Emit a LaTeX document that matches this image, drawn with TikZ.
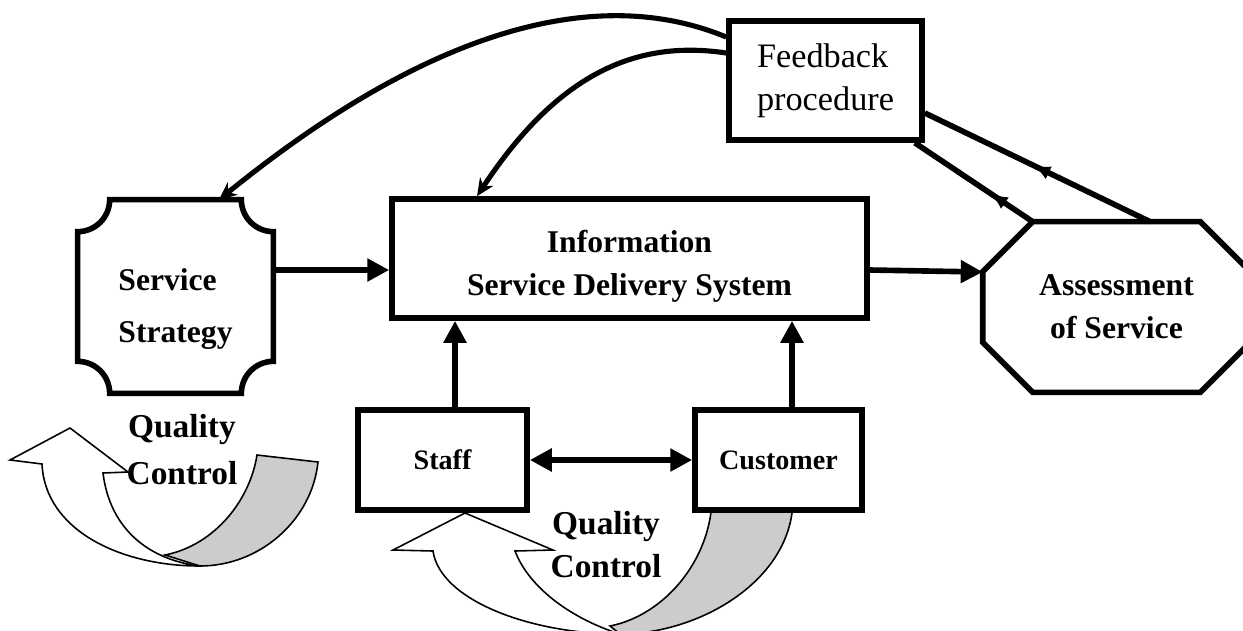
\documentclass[tikz,border=0pt]{standalone}
\usepackage{fontspec}
\setmainfont{Liberation Serif}
\usetikzlibrary{arrows.meta,decorations.markings}

\begin{document}
\begin{tikzpicture}[x=0.02cm,y=-0.02cm,
  box/.style={draw,line width=3.2pt,fill=white},
  bigarrow/.style={line width=3.2pt,-{Triangle[length=12.5pt,width=12.5pt]}},
  bothways/.style={line width=3.2pt,{Triangle[length=12.5pt,width=12.5pt]}-{Triangle[length=12.5pt,width=12.5pt]}},
  fbcurve/.style={line width=2.9pt,-{Stealth[length=10pt,width=9pt]}},
  backline/.style={line width=3.2pt,postaction={decorate},
    decoration={markings,mark=at position #1 with {\arrow{Latex[length=10pt,width=8pt]}}}},
  qcarrow/.style={draw,line width=0.9pt,line join=miter},
  bigfont/.style={font=\fontsize{18}{24.5}\selectfont\bfseries}]
  \useasboundingbox (0,0) rectangle (1243,630);

  % Quality control loops (behind the boxes)
  \draw[qcarrow,fill=gray!40] (165,555) .. controls (215,545) and (250,500) .. (257,455) -- (318,462) .. controls (312,520) and (260,566) .. (200,566) -- cycle;
  \draw[qcarrow,fill=white] (70,428) -- (10,460) -- (42,464) .. controls (45,530) and (120,566) .. (200,566) .. controls (150,560) and (110,530) .. (103,473) -- (128,472) -- cycle;
  \draw[qcarrow,fill=gray!40] (610,626) .. controls (665,615) and (710,560) .. (712,500) -- (793,500) .. controls (792,580) and (700,634) .. (620,634) -- cycle;
  \draw[qcarrow,fill=white] (465,513) -- (393,550) -- (433,551) .. controls (440,600) and (530,634) .. (620,634) .. controls (575,620) and (530,590) .. (515,551) -- (553,550) -- cycle;

  % Boxes
  \node[box,minimum width=9.5cm,minimum height=2.38cm] (info) at (629.5,258.5) {};
  \node[bigfont,align=center] (infotext) at ([yshift=-0.155cm]info.center) {Information\\Service Delivery System};

  \node[box,minimum width=3.86cm,minimum height=2.38cm,align=left,font=\fontsize{19.5}{24.5}\selectfont] (fb) at (825.5,80.5) {Feedback\\procedure};

  \node[minimum width=3.9cm,minimum height=3.86cm] (strat) at (175.5,296.5) {};
  \draw[line width=3.2pt,fill=white] ([xshift=0.64cm]strat.north west) -- ([xshift=-0.64cm]strat.north east) arc (180:270:0.64cm)
    -- ([yshift=0.64cm]strat.south east) arc (90:180:0.64cm)
    -- ([xshift=0.64cm]strat.south west) arc (0:90:0.64cm)
    -- ([yshift=-0.64cm]strat.north west) arc (270:360:0.64cm) -- cycle;
  \node[align=left,font=\fontsize{18}{30}\selectfont\bfseries] (strattext) at ([yshift=-0.25cm]strat.center) {Service\\Strategy};

  \node[bigfont,align=center,minimum width=5.34cm,minimum height=3.4cm] (assess) at (1116.5,307) {Assessment\\of Service};
  \draw[line width=3.2pt] ([xshift=1cm]assess.north west) -- ([xshift=-1cm]assess.north east) -- ([yshift=-1cm]assess.north east)
    -- ([yshift=1cm]assess.south east) -- ([xshift=-1cm]assess.south east) -- ([xshift=1cm]assess.south west)
    -- ([yshift=1cm]assess.south west) -- ([yshift=-1cm]assess.north west) -- cycle;

  \node[box,minimum width=3.38cm,minimum height=2cm,font=\fontsize{16}{19}\selectfont\bfseries] (staff) at (442.5,460) {Staff};
  \node[box,minimum width=3.34cm,minimum height=2cm,font=\fontsize{16}{19}\selectfont\bfseries] (cust) at (778.5,460) {Customer};

  \node[align=center,font=\fontsize{19}{26.7}\selectfont\bfseries] (qcleft) at (182,450) {Quality\\Control};
  \node[align=center,font=\fontsize{19}{24.5}\selectfont\bfseries] (qcmid) at (606,545) {Quality\\Control};

  % Connectors
  \draw[bigarrow] ([yshift=0.53cm]strat.east) -- ([yshift=-0.23cm]info.west);
  \draw[bigarrow] ([yshift=-0.23cm]info.east) -- ([yshift=0.7cm]assess.west);
  \coordinate (staffup) at ([xshift=0.25cm]staff.north);
  \coordinate (custup) at ([xshift=0.27cm]cust.north);
  \draw[bigarrow] (staffup) -- (staffup |- info.south);
  \draw[bigarrow] (custup) -- (custup |- info.south);
  \draw[bothways] (staff) -- (cust);

  \draw[fbcurve] ([yshift=0.87cm]fb.west) .. controls (540,-40) and (330,110) .. ([xshift=0.87cm]strat.north);
  \draw[fbcurve] ([yshift=0.55cm]fb.west) .. controls (640,40) and (560,70) .. ([xshift=-3.05cm]info.north);
  \draw[backline=0.36] ([xshift=1cm]assess.north west) -- ([xshift=-0.2cm]fb.south east);
  \draw[backline=0.52] ([xshift=0.67cm]assess.north) -- ([yshift=-0.65cm]fb.east);
\end{tikzpicture}
\end{document}
